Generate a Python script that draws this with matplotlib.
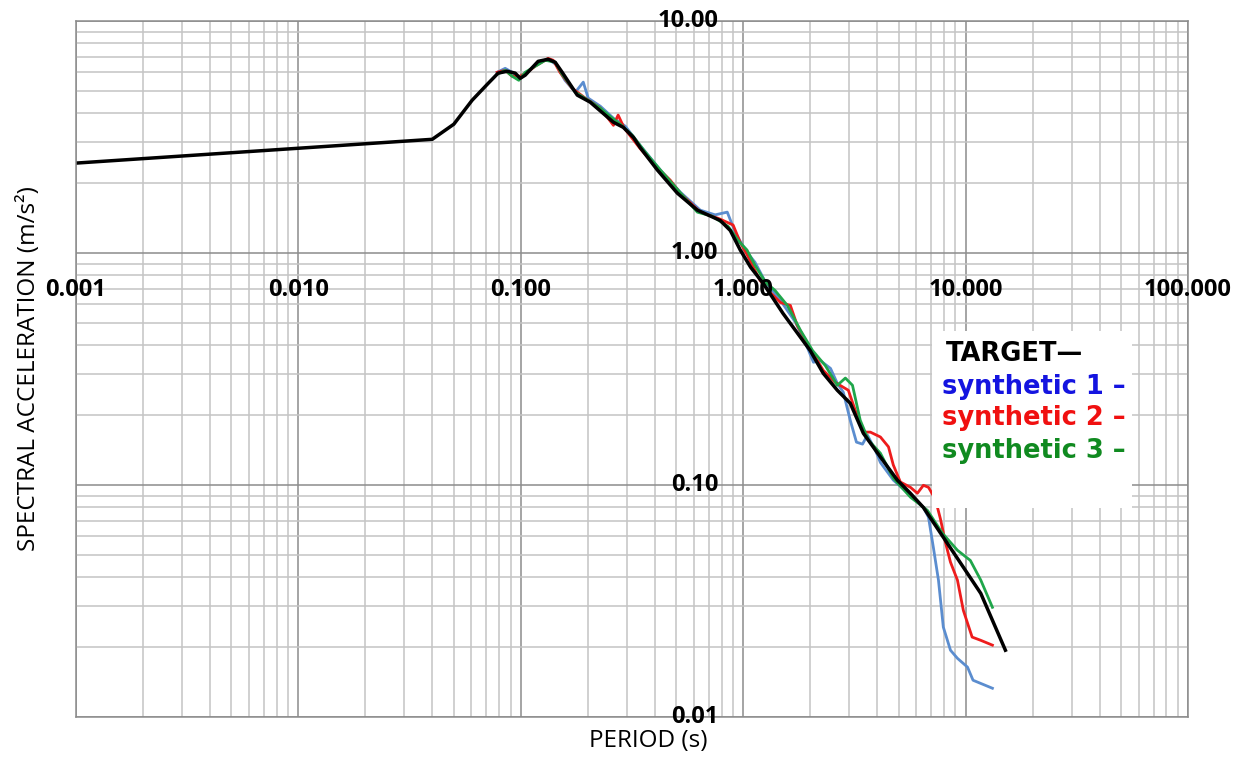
import numpy as np
import matplotlib
matplotlib.use("Agg")
import matplotlib.pyplot as plt
from matplotlib.patches import Rectangle
from matplotlib.ticker import LogLocator, NullFormatter

# Target spectrum (period in s, spectral acceleration in m/s2)
target_T = [0.001, 0.040, 0.050, 0.0604, 0.0713, 0.0791, 0.0869, 0.0944, 0.0994, 0.1047,
            0.1197, 0.1327, 0.1428, 0.1535, 0.1795, 0.205, 0.261, 0.289, 0.321, 0.344,
            0.411, 0.506, 0.622, 0.789, 0.875, 0.970, 1.08, 1.23, 1.51, 2.00,
            2.29, 2.65, 3.03, 3.47, 4.14, 4.93, 5.65, 6.46, 7.94, 9.77,
            11.7, 15.1]
target_SA = [2.44, 3.09, 3.59, 4.55, 5.38, 5.96, 6.07, 5.96, 5.66, 5.84,
             6.70, 6.84, 6.64, 6.01, 4.79, 4.47, 3.66, 3.48, 3.15, 2.85,
             2.28, 1.81, 1.53, 1.38, 1.25, 1.03, 0.868, 0.740, 0.549, 0.380,
             0.303, 0.256, 0.225, 0.167, 0.132, 0.105, 0.092, 0.080, 0.0595, 0.0442,
             0.0341, 0.0194]

# Synthetic 1
syn1_T = [0.0783, 0.0851, 0.0914, 0.0994, 0.107, 0.1197, 0.1327, 0.144, 0.158, 0.176,
          0.191, 0.201, 0.228, 0.261, 0.295, 0.344, 0.424, 0.521, 0.641, 0.748,
          0.848, 0.920, 1.02, 1.13, 1.26, 1.47, 1.72, 1.90, 2.07, 2.22,
          2.47, 2.65, 2.82, 3.03, 3.23, 3.44, 3.62, 3.93, 4.14, 4.73,
          5.65, 6.46, 6.81, 7.16, 7.55, 7.94, 8.55, 9.19, 10.2, 10.8, 13.2]
syn1_SA = [6.01, 6.25, 6.01, 5.66, 6.01, 6.64, 6.84, 6.50, 5.55, 4.93,
           5.45, 4.65, 4.29, 3.81, 3.52, 2.91, 2.28, 1.83, 1.53, 1.46,
           1.50, 1.23, 1.03, 0.912, 0.748, 0.625, 0.502, 0.412, 0.338, 0.344,
           0.318, 0.274, 0.251, 0.190, 0.153, 0.150, 0.164, 0.141, 0.125, 0.105,
           0.0903, 0.080, 0.0726, 0.0539, 0.0389, 0.0244, 0.0194, 0.0179, 0.0164, 0.0144, 0.0133]

# Synthetic 2
syn2_T = [0.0783, 0.0851, 0.0914, 0.0994, 0.107, 0.116, 0.1327, 0.140, 0.150, 0.170,
          0.195, 0.228, 0.261, 0.274, 0.292, 0.344, 0.403, 0.470, 0.521, 0.641,
          0.773, 0.901, 0.970, 1.05, 1.19, 1.32, 1.47, 1.63, 1.75, 2.00,
          2.29, 2.59, 2.97, 3.19, 3.47, 3.73, 4.14, 4.50, 4.73, 5.09,
          5.65, 6.07, 6.46, 6.81, 7.31, 7.71, 8.11, 8.55, 9.19, 9.77,
          10.7, 11.7, 13.2]
syn2_SA = [6.01, 6.13, 5.78, 5.78, 6.01, 6.38, 6.90, 6.77, 6.01, 5.13,
           4.65, 4.21, 3.55, 3.93, 3.45, 2.82, 2.37, 2.06, 1.81, 1.50,
           1.41, 1.32, 1.11, 0.968, 0.762, 0.677, 0.612, 0.594, 0.487, 0.388,
           0.312, 0.277, 0.256, 0.210, 0.169, 0.169, 0.161, 0.146, 0.122, 0.103,
           0.0977, 0.0921, 0.0997, 0.0977, 0.0869, 0.0713, 0.0567, 0.0465, 0.0389, 0.0288,
           0.0221, 0.0214, 0.0204]

# Synthetic 3
syn3_T = [0.0783, 0.0851, 0.0914, 0.098, 0.1047, 0.112, 0.129, 0.1428, 0.1535, 0.176,
          0.201, 0.228, 0.252, 0.280, 0.317, 0.363, 0.424, 0.511, 0.622, 0.726,
          0.857, 0.951, 1.04, 1.13, 1.26, 1.39, 1.58, 1.81, 2.05, 2.34,
          2.65, 2.88, 3.10, 3.36, 3.66, 4.14, 4.73, 5.65, 6.73, 7.87,
          9.19, 10.5, 11.7, 13.2]
syn3_SA = [5.89, 6.13, 5.78, 5.55, 6.01, 6.25, 6.77, 6.64, 5.89, 4.93,
           4.55, 4.21, 3.88, 3.59, 3.22, 2.72, 2.28, 1.86, 1.50, 1.44,
           1.30, 1.13, 1.03, 0.885, 0.748, 0.690, 0.594, 0.464, 0.380, 0.327,
           0.269, 0.289, 0.269, 0.190, 0.156, 0.137, 0.107, 0.0886, 0.0778, 0.0619,
           0.0523, 0.0473, 0.0389, 0.0297]

x_ticks = [0.001, 0.01, 0.1, 1.0, 10.0, 100.0]
x_ticklabels = ["0.001", "0.010", "0.100", "1.000", "10.000", "100.000"]
y_ticks = [10.0, 1.0, 0.1, 0.01]
y_ticklabels = ["10.00", "1.00", "0.10", "0.01"]

fig = plt.figure(figsize=(12.47, 7.60), dpi=100)
ax = fig.add_axes([0.0609, 0.0566, 0.8918, 0.9158])
ax.set_xscale("log")
ax.set_yscale("log")
ax.set_xlim(0.001, 100)
ax.set_ylim(0.01, 10)

ax.xaxis.set_minor_locator(LogLocator(base=10, subs=np.arange(2, 10)))
ax.yaxis.set_minor_locator(LogLocator(base=10, subs=np.arange(2, 10)))
ax.xaxis.set_minor_formatter(NullFormatter())
ax.yaxis.set_minor_formatter(NullFormatter())
ax.set_xticks(x_ticks)
ax.set_yticks(y_ticks)
ax.set_xticklabels([])
ax.set_yticklabels([])
ax.tick_params(which="both", length=0)
ax.grid(which="major", color="#8c8c8c", lw=1.1)
ax.grid(which="minor", color="#c4c4c4", lw=1.1)
ax.set_axisbelow(True)
for s in ax.spines.values():
    s.set_color("#8c8c8c")
    s.set_linewidth(1.1)

ax.plot(syn1_T, syn1_SA, color="#5b8dcf", lw=2)
ax.plot(syn2_T, syn2_SA, color="#ee1c1c", lw=2)
ax.plot(syn3_T, syn3_SA, color="#1fa64a", lw=2)
ax.plot(target_T, target_SA, color="black", lw=2.5)

# tick labels sit on the crossing axes at x=1 and y=1
tick_font = dict(family="Open Sans", fontsize=17, fontweight="bold", color="black")
for xv, lab in zip(x_ticks, x_ticklabels):
    ax.annotate(lab, (xv, 1.0), xytext=(0, -37), textcoords="offset pixels",
                ha="center", va="center", annotation_clip=False, **tick_font)
for yv, lab in zip(y_ticks, y_ticklabels):
    ax.annotate(lab, (1.0, yv), xytext=(-25, 0), textcoords="offset pixels",
                ha="right", va="center", annotation_clip=False, **tick_font)

ax.set_xlabel("PERIOD (s)", family="Open Sans", fontsize=17.5, fontweight="medium")
ax.set_ylabel("SPECTRAL ACCELERATION (m/s²)", family="Open Sans", fontsize=17.5,
              fontweight="medium")
ax.xaxis.set_label_coords(0.515, -0.017)
ax.yaxis.set_label_coords(-0.031, 0.5)

# legend: white box with coloured text
ax.add_patch(Rectangle((0.770, 0.300), 0.180, 0.254, transform=ax.transAxes,
                       facecolor="white", edgecolor="none", zorder=5))
leg_font = dict(family="DejaVu Sans", fontsize=18.5, fontweight="bold", zorder=6,
                transform=ax.transAxes, va="center", ha="left")
ax.text(0.782, 0.521, "TARGET\u2014", color="black", **leg_font)
ax.text(0.779, 0.474, "synthetic 1 \u2013", color="#1414e0", **leg_font)
ax.text(0.779, 0.429, "synthetic 2 \u2013", color="#f01010", **leg_font)
ax.text(0.779, 0.382, "synthetic 3 \u2013", color="#108a20", **leg_font)

fig.savefig("out.png", dpi=100)
